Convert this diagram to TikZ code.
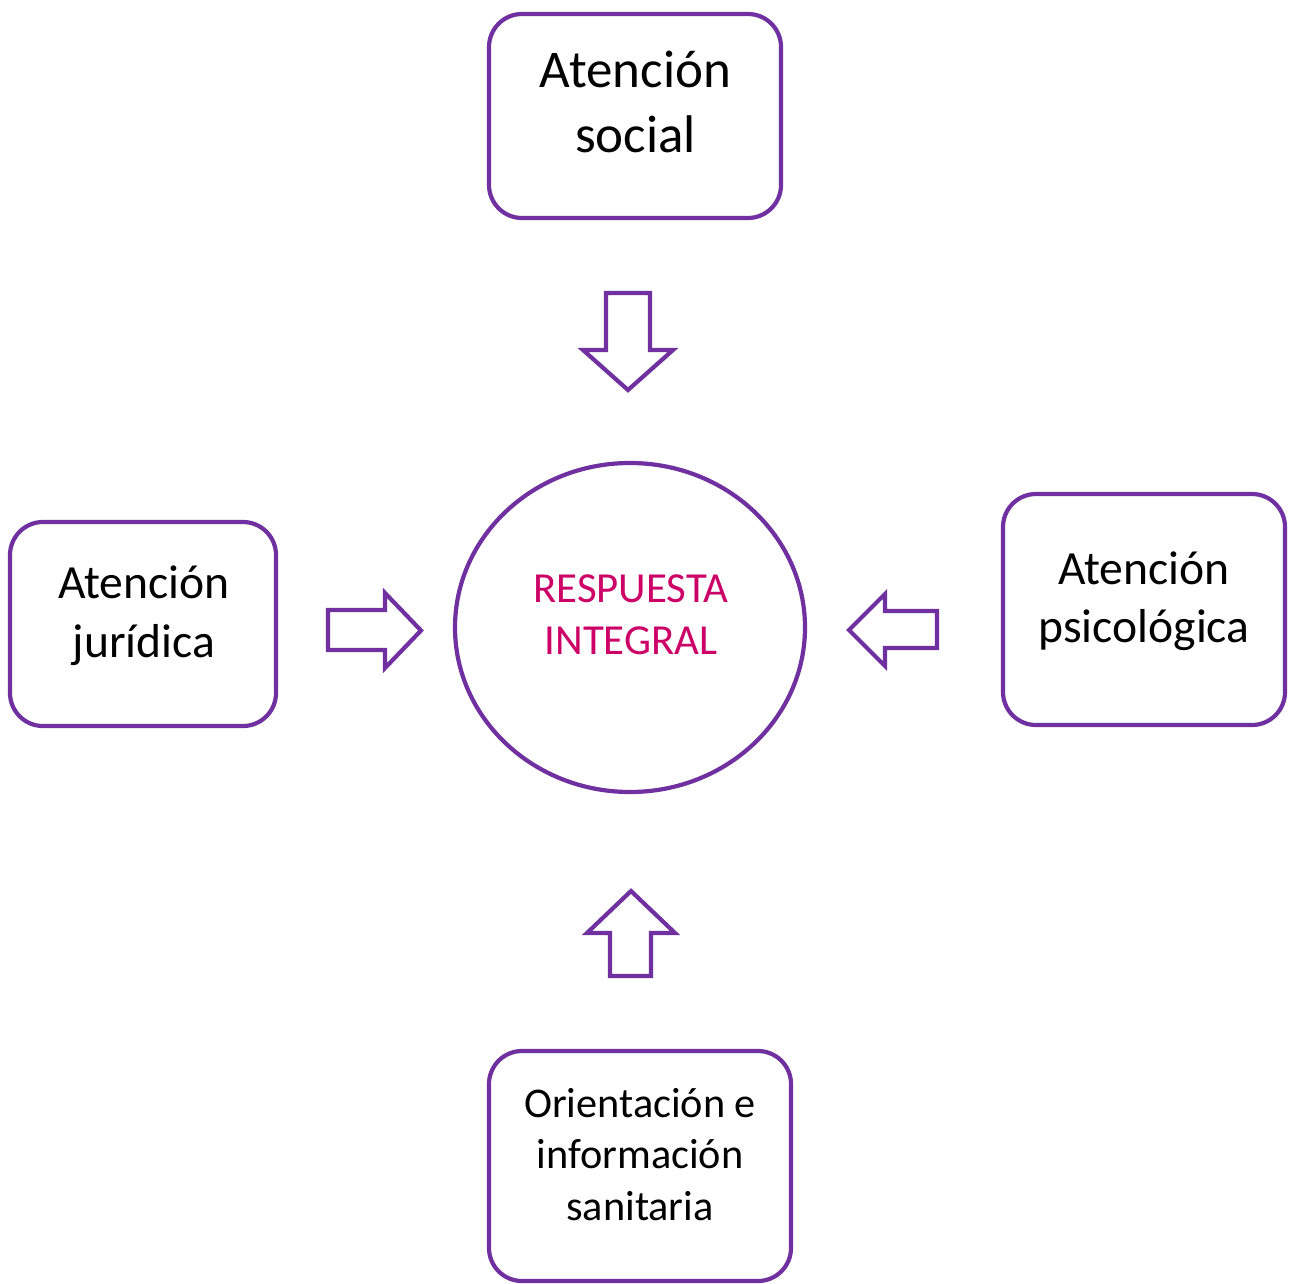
\documentclass[tikz,border=0pt]{standalone}
\usepackage{fontspec}
\setmainfont{Carlito}
\usetikzlibrary{shapes.geometric}
\definecolor{boxpurple}{HTML}{7030A0}
\definecolor{txtpink}{HTML}{CC0066}
\begin{document}
\begin{tikzpicture}[x=1pt,y=-1pt,
  boxstyle/.style={draw=boxpurple,line width=4.2pt,rounded corners=33pt,fill=white,
    rectangle,inner sep=0pt},
  blockarrow/.style={draw=boxpurple,line width=4.2pt,fill=white,line join=miter},
  bigtxt/.style={inner sep=0pt,anchor=base,font=\fontsize{53}{64}\selectfont},
  midtxt/.style={inner sep=0pt,anchor=base,font=\fontsize{47.6}{58}\selectfont},
  smalltxt/.style={inner sep=0pt,anchor=base,font=\fontsize{42.3}{52}\selectfont},
  pinktxt/.style={smalltxt,font=\fontsize{42.8}{52}\selectfont,text=txtpink}]
\useasboundingbox (0,0) rectangle (1290,1284);
\fill[white] (0,0) rectangle (1290,1284);

% boxes
\node[boxstyle,minimum width=292pt,minimum height=204pt] (social) at (635,116) {};
\node[boxstyle,minimum width=266pt,minimum height=204pt] (juridica) at (143,624) {};
\node[boxstyle,minimum width=282pt,minimum height=231pt] (psico) at (1144,609.5) {};
\node[boxstyle,minimum width=302pt,minimum height=230pt] (sanit) at (640,1166) {};

% centre ellipse
\node[ellipse,draw=boxpurple,line width=4.2pt,inner sep=0pt,
      minimum width=350pt,minimum height=329pt] (centro) at (630,627.5) {};

% texts
\node[bigtxt] (s1) at (635.5,88) {Atención};
\node[bigtxt] (s2) at (635.5,153) {social};
\node[midtxt] (j1) at (144,598) {Atención};
\node[midtxt] (j2) at (144,657) {jurídica};
\node[midtxt] (p1) at (1144,584) {Atención};
\node[midtxt] (p2) at (1144,642) {psicológica};
\node[pinktxt] (r1) at (631,602) {RESPUESTA};
\node[pinktxt] (r2) at (631,654) {INTEGRAL};
\node[smalltxt] (o1) at (640,1117) {Orientación e};
\node[smalltxt] (o2) at (640,1168) {información};
\node[smalltxt] (o3) at (640,1220) {sanitaria};

% block arrows
% down
\draw[blockarrow] (606,293) -- (650,293) -- (650,350) -- (673,350) -- (628,390)
  -- (583,350) -- (606,350) -- cycle;
% right-pointing (left side)
\draw[blockarrow] (328,610) -- (385,610) -- (385,593) -- (421,630.5) -- (385,668)
  -- (385,650) -- (328,650) -- cycle;
% left-pointing (right side)
\draw[blockarrow] (937,611) -- (885,611) -- (885,594) -- (849,630) -- (885,666)
  -- (885,648) -- (937,648) -- cycle;
% up
\draw[blockarrow] (610,976) -- (610,933) -- (587,933) -- (631,891) -- (675,933)
  -- (651,933) -- (651,976) -- cycle;
\end{tikzpicture}
\end{document}
